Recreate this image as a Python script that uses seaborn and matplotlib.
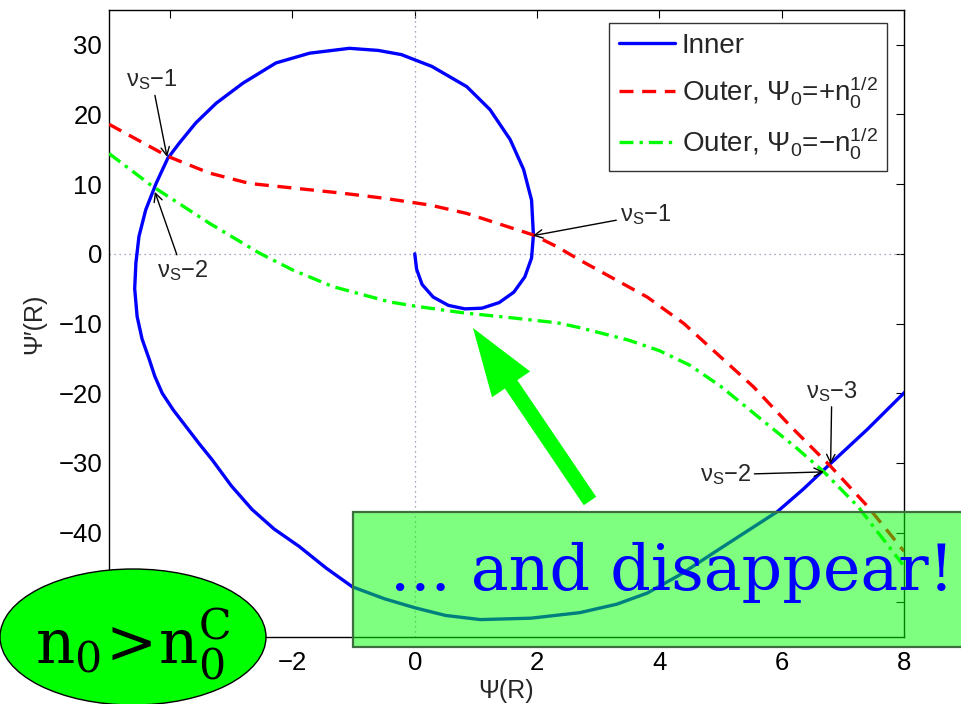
import matplotlib
matplotlib.use("Agg")
import matplotlib.pyplot as plt
from matplotlib.patches import Ellipse, Rectangle, FancyArrow
import seaborn as sns
import pandas as pd

# Inner solution trajectory in the (Psi, Psi') phase plane
inner_psi = [0.0, 0.03, 0.12, 0.3, 0.55, 0.82, 1.1, 1.38, 1.62, 1.8, 1.91, 1.94,
             1.91, 1.78, 1.56, 1.23, 0.85, 0.28, -0.22, -0.6, -1.07, -1.72, -2.27,
             -2.81, -3.25, -3.58, -3.85, -4.04, -4.23, -4.40, -4.51, -4.56, -4.58,
             -4.54, -4.46, -4.34, -4.25, -4.13, -3.95, -3.74, -3.53, -3.31, -3.0,
             -2.66, -2.3, -1.89, -1.45, -1.02, -0.5, 0.0, 0.5, 1.07, 1.9, 2.7, 3.3,
             3.8, 4.35, 4.89, 5.4, 5.93, 6.35, 6.75, 7.4, 8.02]
inner_dpsi = [0.0, -2.2, -4.4, -6.2, -7.4, -7.9, -7.8, -7.0, -5.5, -3.3, -0.6, 2.7,
              7.7, 12.1, 16.4, 20.7, 24.0, 26.9, 28.6, 29.2, 29.5, 28.8, 27.4,
              24.5, 21.6, 18.8, 15.9, 13.7, 10.1, 6.3, 2.5, -1.3, -5.0,
              -9.0, -12.2, -15.2, -17.6, -20.0, -22.4, -24.8, -27.2, -29.6, -33.3,
              -36.7, -39.5, -42.0, -45.1, -47.8, -49.5, -50.8, -51.9, -52.5, -52.3, -51.5, -50.3,
              -48.7, -46.0, -42.9, -40.0, -37.0, -33.8, -30.5, -25.2, -19.8]

# Outer solution, Psi_0 = +n0^(1/2)
outer_p_psi = [-5.0, -4.04, -3.36, -2.7, -1.94, -1.18, -0.52, 0.25, 0.85, 1.94, 2.33,
               2.7, 3.8, 4.4, 5.05, 5.54, 6.15, 6.8, 7.41, 8.0]
outer_p_dpsi = [18.6, 14.0, 11.6, 10.1, 9.4, 8.7, 8.0, 7.0, 5.8, 2.7, 1.0,
                -0.9, -6.2, -10.0, -15.2, -19.1, -24.8, -30.5, -36.3, -42.7]

# Outer solution, Psi_0 = -n0^(1/2)
outer_m_psi = [-5.0, -4.29, -3.36, -2.54, -2.0, -1.34, -0.41, 0.0, 0.82, 1.5, 2.33,
               2.7, 3.5, 4.0, 4.5, 5.0, 5.7, 6.26, 6.69, 7.25, 7.98]
outer_m_dpsi = [14.4, 9.7, 4.4, 0.1, -2.3, -4.7, -6.9, -7.5, -8.5, -9.1, -9.9,
                -10.6, -12.4, -13.9, -16.0, -19.0, -24.0, -28.0, -31.3, -36.3, -44.6]

xticks = [-4, -2, 0, 2, 4, 6, 8]
xticklabels = ["", "\u22122", "0", "2", "4", "6", "8"]
yticks = [-50, -40, -30, -20, -10, 0, 10, 20, 30]
yticklabels = ["", "\u221240", "\u221230", "\u221220", "\u221210", "0", "10", "20", "30"]

sns.set_theme(style="white")
plt.rcParams["font.family"] = ["Liberation Sans", "DejaVu Sans"]
plt.rcParams["mathtext.fontset"] = "custom"
plt.rcParams["mathtext.rm"] = "Liberation Sans"
plt.rcParams["mathtext.it"] = "Liberation Sans:italic"
plt.rcParams["mathtext.default"] = "rm"
plt.rcParams["axes.edgecolor"] = "black"
plt.rcParams["axes.linewidth"] = 1.0

fig = plt.figure(figsize=(9.61, 7.04), dpi=100)
ax = fig.add_axes([109 / 961, 67 / 704, 795 / 961, 627 / 704])

ax.axhline(0, color="#8a8aa8", lw=0.9, ls=(0, (1, 3)), zorder=1)
ax.axvline(0, color="#8a8aa8", lw=0.9, ls=(0, (1, 3)), zorder=1)

inner_df = pd.DataFrame({"psi": inner_psi, "dpsi": inner_dpsi})
op_df = pd.DataFrame({"psi": outer_p_psi, "dpsi": outer_p_dpsi})
om_df = pd.DataFrame({"psi": outer_m_psi, "dpsi": outer_m_dpsi})

sns.lineplot(data=inner_df, x="psi", y="dpsi", sort=False, estimator=None, ax=ax,
             color="#0000ff", lw=2.4, label="Inner", zorder=3)
sns.lineplot(data=op_df, x="psi", y="dpsi", sort=False, estimator=None, ax=ax,
             color="#ff0000", lw=2.4, ls=(0, (4.2, 2.6)),
             label=r"Outer, $\Psi_0$=+n$_0^{1/2}$", zorder=3)
sns.lineplot(data=om_df, x="psi", y="dpsi", sort=False, estimator=None, ax=ax,
             color="#00ff00", lw=2.4, ls=(0, (4.2, 1.8, 1.0, 1.8)),
             label=r"Outer, $\Psi_0$=$-$n$_0^{1/2}$", zorder=3)

ax.set_xlim(-5, 8)
ax.set_ylim(-55, 35)
ax.set_xticks(xticks)
ax.set_xticklabels(xticklabels)
ax.set_yticks(yticks)
ax.set_yticklabels(yticklabels)
ax.tick_params(direction="in", top=True, right=True, length=5.5, width=0.8,
               labelsize=18.5, colors="black")
ax.tick_params(axis="x", pad=10)
ax.tick_params(axis="y", pad=5)
for s in ax.spines.values():
    s.set_visible(True)
    s.set_color("black")

ax.set_xlabel("Ψ(R)", fontsize=18, labelpad=3)
ax.set_ylabel("Ψ′(R)", fontsize=18, labelpad=9)

leg = ax.legend(loc="upper right", bbox_to_anchor=(0.979, 0.979), borderaxespad=0,
                fontsize=20, frameon=True, fancybox=False, handlelength=2.0,
                handletextpad=0.25, labelspacing=0.55, borderpad=0.35)
leg.get_frame().set_edgecolor("black")
leg.get_frame().set_linewidth(1.0)

arrow_kw = dict(arrowstyle="->", color="black", lw=1.0,
                mutation_scale=15, shrinkA=0, shrinkB=0)
nu = r"$\nu_\mathrm{S}$"
ann = [
    (nu + "\u22121", (-4.05, 13.9), (-4.30, 25.0)),
    (nu + "\u22122", (-4.25, 8.9), (-3.80, -2.4)),
    (nu + "\u22121", (1.93, 2.6), (3.77, 5.6)),
    (nu + "\u22123", (6.80, -30.2), (6.82, -19.7)),
    (nu + "\u22122", (6.69, -31.3), (5.08, -31.7)),
]
for txt, xy, xyt in ann:
    ax.annotate(txt, xy=xy, xytext=xyt, ha="center", va="center", fontsize=17,
                arrowprops=arrow_kw, zorder=4)

inch = fig.dpi_scale_trans

# Big green arrow pointing at the vanishing crossing
fig.add_artist(FancyArrow(5.90, (704 - 501) / 100, -1.17, 1.73, width=0.15,
                          head_width=0.46, head_length=0.68,
                          length_includes_head=True, color="#00ff00",
                          lw=0, transform=inch, zorder=5))

# Translucent caption box
fig.add_artist(Rectangle((3.53, (704 - 647) / 100), 6.2, 1.35,
                         facecolor=(0, 1, 0, 0.5), edgecolor="#3d6e3d", lw=1.6,
                         transform=inch, zorder=6))
fig.text(3.90, (704 - 590) / 100, "... and disappear!", transform=inch,
         ha="left", va="baseline", fontsize=45.7, color="#0000ff",
         family="DejaVu Serif", zorder=7)

# Condition badge
fig.add_artist(Ellipse((1.33, (704 - 637) / 100), 2.66, 1.36,
                       facecolor="#00ff00", edgecolor="black", lw=1.0,
                       transform=inch, zorder=8))
fig.text(1.33, (704 - 663) / 100, r"$\mathrm{n_0}\!>\!\mathrm{n_0^C}$",
         transform=inch, ha="center", va="baseline", fontsize=44, color="black",
         math_fontfamily="dejavuserif", zorder=9)

fig.savefig("out.png", dpi=100)
